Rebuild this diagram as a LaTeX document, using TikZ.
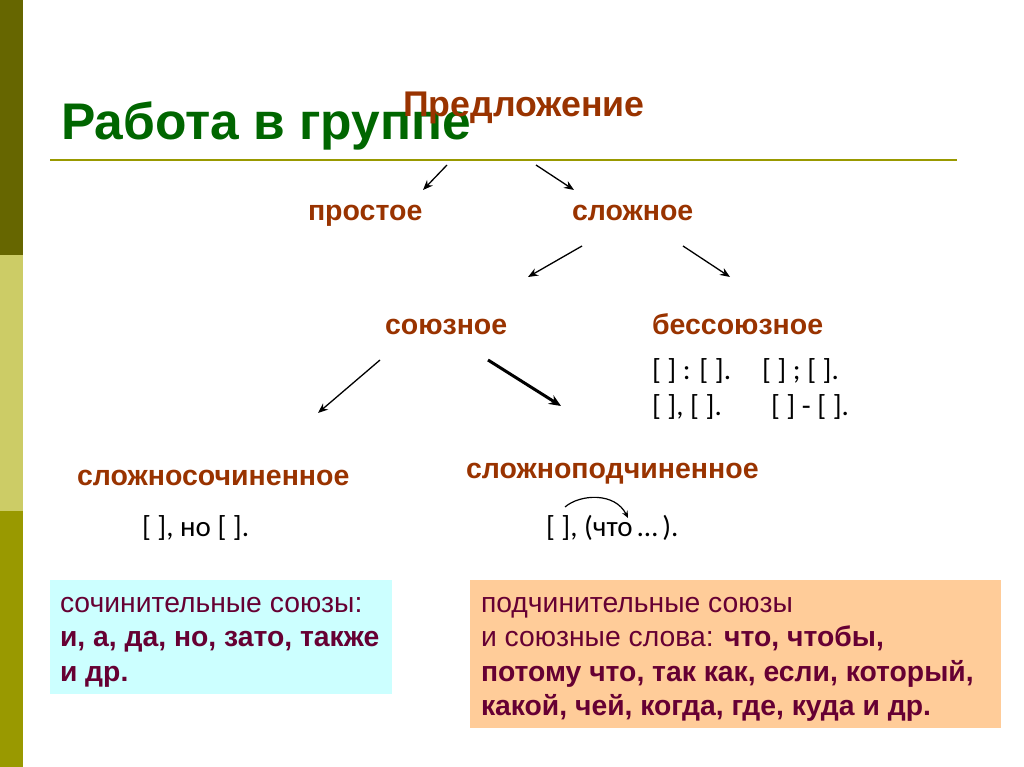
\documentclass[tikz,border=0pt]{standalone}
\usepackage{fontspec}
\setmainfont{Liberation Sans}
\newfontfamily\narrowfont{Carlito}
\usetikzlibrary{arrows.meta}
\definecolor{titlegreen}{HTML}{006600}
\definecolor{rust}{HTML}{993300}
\definecolor{boxtext}{HTML}{660033}
\definecolor{olive}{HTML}{999900}
\definecolor{bardark}{HTML}{666600}
\definecolor{barlight}{HTML}{CCCC66}
\definecolor{cyanbox}{HTML}{CCFFFF}
\definecolor{peachbox}{HTML}{FFCC99}
\tikzset{
  txt/.style={inner sep=0pt, outer sep=0pt, anchor=base west},
  lbl/.style={txt, font=\fontsize{28.5}{34}\selectfont\bfseries, text=rust},
  scheme/.style={txt, font=\narrowfont\fontsize{29}{34}\selectfont, text=black},
  boxline/.style={txt, font=\fontsize{28.3}{34}\selectfont, text=boxtext},
  boxbold/.style={txt, font=\fontsize{28.3}{34}\selectfont\bfseries, text=boxtext},
  arr/.style={-{Stealth[length=10pt,width=8pt]}, line width=1.3pt, black},
  thickarr/.style={-{Stealth[length=12pt,width=10pt]}, line width=3pt, black},
  curvearr/.style={-{Stealth[length=7pt,width=6pt]}, line width=1.2pt, black},
}
\begin{document}
\begin{tikzpicture}[x=1pt,y=-1pt]
\useasboundingbox (0,0) rectangle (1024,767);
% left bar
\fill[bardark] (0,0) rectangle (23,255);
\fill[barlight] (0,255) rectangle (23,511);
\fill[olive] (0,511) rectangle (23,767);
% title rule
\draw[olive, line width=2pt] (50,160) -- (957,160);
% title
\node[txt, font=\fontsize{51.5}{60}\selectfont\bfseries, text=titlegreen] (title) at (61,140) {Работа в группе};
\node[txt, font=\fontsize{35.7}{42}\selectfont\bfseries, text=rust] (pred) at (403,117) {Предложение};
% level 1
\node[lbl] (prost) at (308,221) {простое};
\node[lbl] (slozh) at (572,221) {сложное};
% level 2
\node[lbl] (soyuz) at (385,334) {союзное};
\node[lbl] (bessoyuz) at (652,334) {бессоюзное};
\node[scheme] (b1) at (652,379) {[ ] : [ ].};
\node[scheme] (b2) at (762,379) {[ ] ; [ ].};
\node[scheme] (b3) at (652,415) {[ ], [ ].};
\node[scheme] (b4) at (771,415) {[ ] - [ ].};
% level 3
\node[lbl] (ssp) at (77,485) {сложносочиненное};
\node[lbl] (spp) at (466,478) {сложноподчиненное};
\node[scheme] (sspex) at (142,536) {[ ], но [ ].};
\node[scheme] (sppex) at (546,536) {[ ], (что\,…\,).};
% arrow endpoints
\coordinate (p1) at (447,165); \coordinate (p1e) at (423,190);
\coordinate (p2) at (536,165); \coordinate (p2e) at (574,190);
\coordinate (s1) at (582,246); \coordinate (s1e) at (528,277);
\coordinate (s2) at (683,246); \coordinate (s2e) at (730,277);
\coordinate (u1) at (380,360); \coordinate (u1e) at (318,413);
\coordinate (u2) at (488,360); \coordinate (u2e) at (561,406);
\coordinate (c1) at (565,507); \coordinate (c1e) at (628,518);
\draw[arr] (p1) -- (p1e);
\draw[arr] (p2) -- (p2e);
\draw[arr] (s1) -- (s1e);
\draw[arr] (s2) -- (s2e);
\draw[arr] (u1) -- (u1e);
\draw[thickarr] (u2) -- (u2e);
\draw[curvearr] (c1) .. controls (580,494) and (615,492) .. (c1e);
% boxes
\node[fill=cyanbox, inner sep=0pt, minimum width=342pt, minimum height=114pt, anchor=north west] (cbox) at (50,580) {};
\node[fill=peachbox, inner sep=0pt, minimum width=531pt, minimum height=148pt, anchor=north west] (pbox) at (470,580) {};
\node[boxline] (c1t) at (60,612) {сочинительные союзы:};
\node[boxbold] (c2t) at (60,646) {и, а, да, но, зато, также};
\node[boxbold] (c3t) at (60,681) {и др.};
\node[boxline] (p1t) at (481,612) {подчинительные союзы};
\node[boxline] (p2t) at (481,646) {и союзные слова: \textbf{что, чтобы,}};
\node[boxbold] (p3t) at (481,681) {потому что, так как, если, который,};
\node[boxbold] (p4t) at (481,715) {какой, чей, когда, где, куда и др.};
\end{tikzpicture}
\end{document}
